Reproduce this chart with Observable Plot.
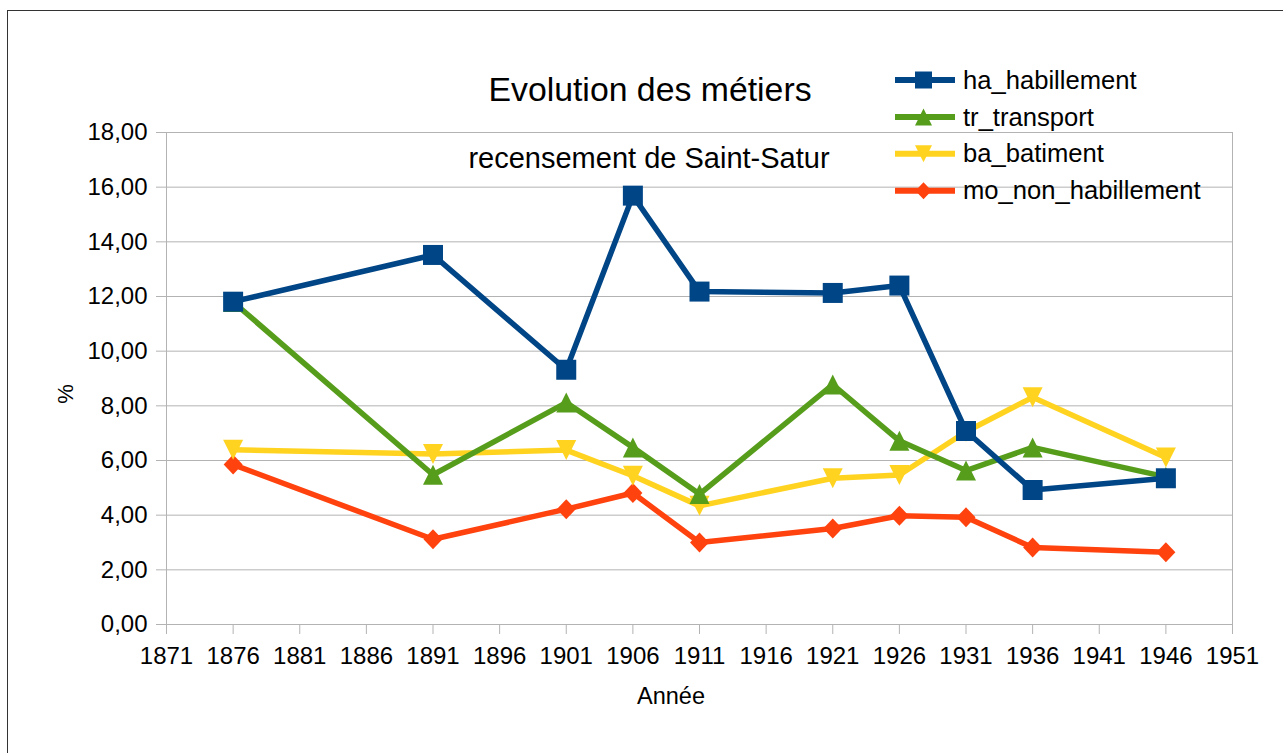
<!DOCTYPE html>
<html>
<head>
<meta charset="utf-8">
<script src="https://cdn.jsdelivr.net/npm/d3@7"></script>
<script src="https://cdn.jsdelivr.net/npm/@observablehq/plot@0.6"></script>
<style>
  html, body { margin: 0; padding: 0; background: #fff; }
  #chart svg { display: block; }
</style>
</head>
<body>
<div id="chart"></div>
<script>
// ---- Data ----
const years = [1876, 1891, 1901, 1906, 1911, 1921, 1926, 1931, 1936, 1946];
const seriesNames = ["ha_habillement", "tr_transport", "ba_batiment", "mo_non_habillement"];
const haHabillement = [11.81, 13.52, 9.32, 15.69, 12.18, 12.13, 12.40, 7.08, 4.92, 5.35];
const trTransport = [11.80, 5.48, 8.12, 6.48, 4.77, 8.78, 6.72, 5.63, 6.48, 5.40];
const baBatiment = [6.39, 6.24, 6.38, 5.44, 4.34, 5.35, 5.47, 7.05, 8.31, 6.11];
const moNonHabillement = [5.85, 3.12, 4.22, 4.81, 3.00, 3.51, 3.98, 3.92, 2.82, 2.64];
const xTicks = [1871, 1876, 1881, 1886, 1891, 1896, 1901, 1906, 1911, 1916, 1921, 1926, 1931, 1936, 1941, 1946, 1951];
const yTicks = [0, 2, 4, 6, 8, 10, 12, 14, 16, 18];
const title = "Evolution des métiers";
const subtitle = "recensement de Saint-Satur";
const xLabel = "Année";
const yLabel = "%";

// ---- Styles ----
const colors = ["#004586", "#579d1c", "#ffd320", "#ff420e"];
const FONT = "'Liberation Sans', Arial, sans-serif";

// custom symbols (centered, half-size r)
const symSquare = { draw(ctx, size) { const r = Math.sqrt(size / Math.PI); ctx.rect(-r, -r, 2 * r, 2 * r); } };
const symTriUp = { draw(ctx, size) { const r = Math.sqrt(size / Math.PI); ctx.moveTo(0, -r); ctx.lineTo(r, r); ctx.lineTo(-r, r); ctx.closePath(); } };
const symTriDown = { draw(ctx, size) { const r = Math.sqrt(size / Math.PI); ctx.moveTo(0, r); ctx.lineTo(r, -r); ctx.lineTo(-r, -r); ctx.closePath(); } };
const symDiamond = { draw(ctx, size) { const r = Math.sqrt(size / Math.PI); ctx.moveTo(0, -r); ctx.lineTo(r * 0.95, 0); ctx.lineTo(0, r); ctx.lineTo(-r * 0.95, 0); ctx.closePath(); } };
const symbols = [symSquare, symTriUp, symTriDown, symDiamond];

const valueArrays = [haHabillement, trTransport, baBatiment, moNonHabillement];
const series = seriesNames.map((name, i) => ({
  name, color: colors[i], symbol: symbols[i],
  data: years.map((year, j) => ({ year, value: valueArrays[i][j], series: name }))
}));

const fmt = d => d.toFixed(2).replace(".", ",");

const seriesMarks = [];
for (const s of series.slice().reverse()) {
  seriesMarks.push(Plot.line(s.data, { x: "year", y: "value", stroke: s.color, strokeWidth: 5.5, strokeLinejoin: "round", strokeLinecap: "butt" }));
  seriesMarks.push(Plot.dot(s.data, { x: "year", y: "value", fill: s.color, stroke: "none", r: 10, symbol: s.symbol }));
}

const chart = Plot.plot({
  width: 1283,
  height: 753,
  marginLeft: 166,
  marginRight: 51,
  marginTop: 132,
  marginBottom: 129,
  style: { fontFamily: FONT, fontSize: "24px", color: "#000", background: "#fff", overflow: "visible" },
  x: { domain: [1871, 1951] },
  y: { domain: [0, 18] },
  marks: [
    Plot.gridY(yTicks, { stroke: "#b3b3b3", strokeOpacity: 1 }),
    Plot.frame({ stroke: "#b3b3b3" }),
    Plot.axisY(yTicks, { tickSize: 10, tickPadding: 9, tickFormat: fmt, stroke: "#b3b3b3", fill: "#000", label: null, fontSize: 24 }),
    Plot.axisX(xTicks, { tickSize: 10, tickPadding: 12, tickFormat: d => String(d), stroke: "#b3b3b3", fill: "#000", label: null, fontSize: 24 }),
    ...seriesMarks
  ]
});

document.getElementById("chart").appendChild(chart);

// ---- Decorations: border, titles, axis labels, legend ----
const svg = d3.select(chart);
svg.insert("rect", ":first-child")
  .attr("x", 7.5).attr("y", 10.5).attr("width", 1300).attr("height", 800)
  .attr("fill", "#fff").attr("stroke", "#333").attr("stroke-width", 1);

svg.append("text").text(title)
  .attr("x", 650).attr("y", 101).attr("text-anchor", "middle")
  .attr("font-family", FONT).attr("font-size", 33.8).attr("fill", "#000");
svg.append("text").text(subtitle)
  .attr("x", 649).attr("y", 168).attr("text-anchor", "middle")
  .attr("font-family", FONT).attr("font-size", 29).attr("fill", "#000");

svg.append("text").text(xLabel)
  .attr("x", 671).attr("y", 704).attr("text-anchor", "middle")
  .attr("font-family", FONT).attr("font-size", 23.5).attr("fill", "#000");
svg.append("text").text(yLabel)
  .attr("transform", "translate(73,394) rotate(-90)").attr("text-anchor", "middle")
  .attr("font-family", FONT).attr("font-size", 22).attr("fill", "#000");

const legend = svg.append("g");
series.forEach((s, i) => {
  const cy = 80 + i * 36.9;
  legend.append("line").attr("x1", 895).attr("x2", 955).attr("y1", cy).attr("y2", cy)
    .attr("stroke", s.color).attr("stroke-width", 6);
  legend.append("path").attr("transform", `translate(923.5,${cy})`)
    .attr("d", d3.symbol(s.symbol, Math.PI * 8.5 * 8.5)()).attr("fill", s.color);
  legend.append("text").text(s.name)
    .attr("x", 963).attr("y", cy + 8.6).attr("text-anchor", "start")
    .attr("font-family", FONT).attr("font-size", 25.6).attr("fill", "#000");
});
</script>
</body>
</html>
